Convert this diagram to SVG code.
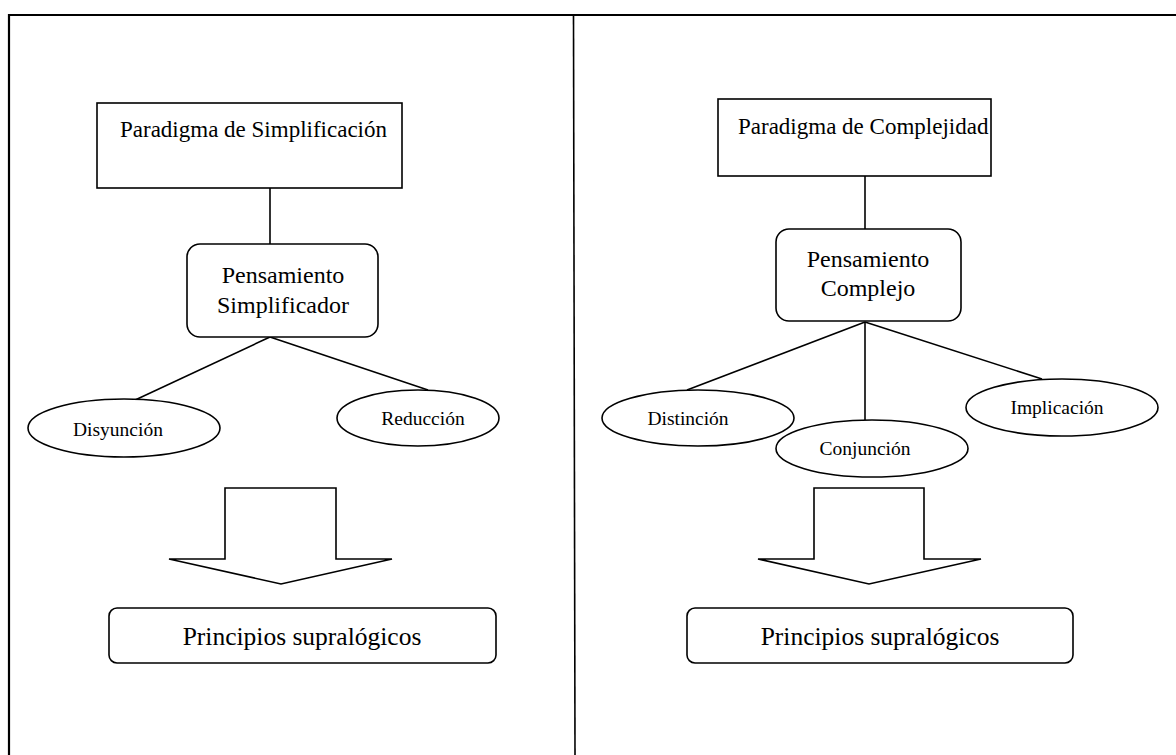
<svg xmlns="http://www.w3.org/2000/svg" width="1176" height="755" viewBox="0 0 1176 755">
<style>
.frame{fill:none;stroke:#000;stroke-width:2.2}
.div{fill:none;stroke:#000;stroke-width:1.6}
.box{fill:#fff;stroke:#000;stroke-width:1.6}
.ln{fill:none;stroke:#000;stroke-width:1.6}
.t{font-family:"Liberation Serif","Times New Roman",serif;fill:#000}
.big{font-size:23px}
.mid{font-size:24px}
.pr{font-size:25.5px}
.sm{font-size:19.5px}
</style>
<rect x="0" y="0" width="1176" height="755" fill="#fff"/>
<g id="frame">
<path class="frame" d="M9 755 V15 H1176"/>
<line class="div" x1="573.5" y1="15" x2="575" y2="755"/>
</g>
<g id="connectors">
<line class="ln" x1="270" y1="188" x2="270" y2="244"/>
<line class="ln" x1="270" y1="337" x2="133" y2="401"/>
<line class="ln" x1="270" y1="337" x2="428" y2="390"/>
<line class="ln" x1="865" y1="176" x2="865" y2="229"/>
<line class="ln" x1="865" y1="322" x2="687" y2="390"/>
<line class="ln" x1="865" y1="322" x2="865" y2="420"/>
<line class="ln" x1="865" y1="322" x2="1042" y2="379"/>
</g>
<g id="paradigma-simplificacion">
<rect class="box" x="97" y="103" width="305" height="85"/>
<text class="t big" x="120" y="137">Paradigma de Simplificación</text>
</g>
<g id="pensamiento-simplificador">
<rect class="box" x="187" y="244" width="191" height="93" rx="13"/>
<text class="t mid" x="283" y="283" text-anchor="middle">Pensamiento</text>
<text class="t mid" x="283" y="313" text-anchor="middle">Simplificador</text>
</g>
<g id="disyuncion">
<ellipse class="box" cx="124" cy="428" rx="96" ry="29"/>
<text class="t sm" x="118" y="436" text-anchor="middle">Disyunción</text>
</g>
<g id="reduccion">
<ellipse class="box" cx="418" cy="418" rx="81" ry="28"/>
<text class="t sm" x="423" y="425" text-anchor="middle">Reducción</text>
</g>
<g id="flecha-izq">
<polygon class="box" points="225,488 336,488 336,559 392,559 281,584 169,559 225,559"/>
</g>
<g id="principios-izq">
<rect class="box" x="109" y="608" width="387" height="55" rx="8"/>
<text class="t pr" x="302" y="645" text-anchor="middle">Principios supralógicos</text>
</g>
<g id="paradigma-complejidad">
<rect class="box" x="718" y="99" width="273" height="77"/>
<text class="t big" x="738" y="134">Paradigma de Complejidad</text>
</g>
<g id="pensamiento-complejo">
<rect class="box" x="776" y="229" width="185" height="92" rx="13"/>
<text class="t mid" x="868" y="267" text-anchor="middle">Pensamiento</text>
<text class="t mid" x="868" y="296" text-anchor="middle">Complejo</text>
</g>
<g id="distincion">
<ellipse class="box" cx="698" cy="418" rx="96" ry="28"/>
<text class="t sm" x="688" y="425" text-anchor="middle">Distinción</text>
</g>
<g id="conjuncion">
<ellipse class="box" cx="872" cy="448.5" rx="96" ry="28.5"/>
<text class="t sm" x="865" y="455" text-anchor="middle">Conjunción</text>
</g>
<g id="implicacion">
<ellipse class="box" cx="1062" cy="407.5" rx="96" ry="28.5"/>
<text class="t sm" x="1057" y="414" text-anchor="middle">Implicación</text>
</g>
<g id="flecha-der">
<polygon class="box" points="814,488 924,488 924,559 981,559 869,584 758,559 814,559"/>
</g>
<g id="principios-der">
<rect class="box" x="687" y="608" width="386" height="55" rx="8"/>
<text class="t pr" x="880" y="645" text-anchor="middle">Principios supralógicos</text>
</g>
</svg>
